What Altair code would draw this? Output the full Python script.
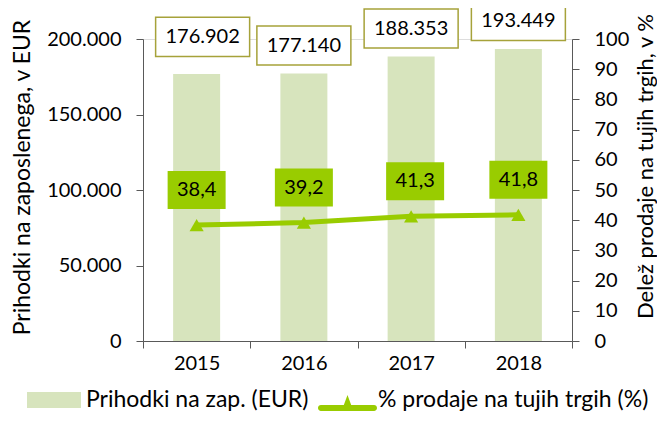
import altair as alt
import pandas as pd

# ---- data -------------------------------------------------------------
years = ["2015", "2016", "2017", "2018"]
revenue = [176902, 177140, 188353, 193449]          # Prihodki na zaposlenega (EUR)
share = [38.4, 39.2, 41.3, 41.8]                    # % prodaje na tujih trgih

rev_labels = [f"{v:,}".replace(",", ".") for v in revenue]
share_labels = [f"{v:.1f}".replace(".", ",") for v in share]

S_BAR = "Prihodki na zap. (EUR)"
S_LINE = "% prodaje na tujih trgih (%)"

df = pd.DataFrame({
    "year": years,
    "revenue": revenue,
    "share": share,
    "rev_label": rev_labels,
    "share_label": share_labels,
})

# ---- style ------------------------------------------------------------
BAR = "#d7e4bd"
GREEN = "#99cc00"
OLIVE = "#a6a23a"
AXIS = "#595959"
FONT = "Lato"
FS = 20
TFS = 23
LFS = 23


def make_legend(x, y, shape, size, offset):
    return alt.Legend(
        title=None,
        orient="none",
        direction="horizontal",
        legendX=x,
        legendY=y,
        symbolType=shape,
        symbolSize=size,
        symbolStrokeWidth=0,
        symbolOpacity=1,
        labelFont=FONT,
        labelFontSize=LFS,
        labelColor="black",
        labelOffset=offset,
        labelLimit=400,
    )


legend_bar = make_legend(-116, 334, "M-1,-0.296H1V0.296H-1Z", 2916, 5)
legend_line = make_legend(
    175, 331.5,
    "M-0.9,0.17H0.9A0.1,0.1 0 0 1 0.9,0.37H-0.9A0.1,0.1 0 0 1 -0.9,0.17Z "
    "M-0.2,0.37L0,-0.17L0.2,0.37Z",
    3481, 1,
)

x = alt.X(
    "year:N",
    scale=alt.Scale(paddingInner=0, paddingOuter=0),
    axis=alt.Axis(
        title=None, labelAngle=0, tickBand="extent", tickSize=7, labelPadding=5,
        labelFont=FONT, labelFontSize=FS, labelColor="black",
        domainColor=AXIS, tickColor=AXIS, grid=False,
    ),
)

y_left = alt.Y(
    "revenue:Q",
    scale=alt.Scale(domain=[0, 200000], nice=False),
    axis=alt.Axis(
        values=[0, 50000, 100000, 150000, 200000],
        labelExpr="replace(format(datum.value, ','), ',', '.')",
        tickSize=7, labelPadding=15,
        labelFont=FONT, labelFontSize=FS, labelColor="black",
        domainColor=AXIS, tickColor=AXIS, grid=False,
        title="Prihodki na zaposlenega, v EUR",
        titleFont=FONT, titleFontSize=TFS, titleFontWeight="normal", titleColor="black",
        titleAngle=270, titleX=-121, titleY=138, titleAlign="center", titleBaseline="middle",
    ),
)

y_right = alt.Y(
    "share:Q",
    scale=alt.Scale(domain=[0, 100], nice=False),
    axis=alt.Axis(
        orient="right",
        values=list(range(0, 101, 10)),
        tickSize=7, labelPadding=15,
        labelFont=FONT, labelFontSize=FS, labelColor="black",
        domainColor=AXIS, tickColor=AXIS, grid=False,
        title="Delež prodaje na tujih trgih, v %",
        titleFont=FONT, titleFontSize=22, titleFontWeight="normal", titleColor="black",
        titleAngle=270, titleX=73, titleY=127, titleAlign="center", titleBaseline="middle",
    ),
)

base = alt.Chart(df)

bars = base.mark_bar(width=47).encode(
    x=x, y=y_left,
    fill=alt.Fill("series:N", scale=alt.Scale(domain=[S_BAR], range=[BAR]), legend=legend_bar),
).transform_calculate(series=f"'{S_BAR}'")

bar_box = base.mark_point(
    shape="M-1,-0.415H1V0.415H-1Z", size=8836, filled=True,
    fill="white", stroke=OLIVE, strokeWidth=1.5, opacity=1,
    xOffset={"expr": "datum.year === '2015' ? 6 : 0"},
    yOffset={"expr": "datum.year === '2015' ? -37 : -28"},
).encode(x=x, y=y_left)

bar_text = base.mark_text(
    font=FONT, fontSize=FS, color="black", baseline="middle",
    xOffset={"expr": "datum.year === '2015' ? 6 : 0"},
    yOffset={"expr": "datum.year === '2015' ? -37 : -28"},
).encode(x=x, y=y_left, text="rev_label:N")

left = alt.layer(bars, bar_box, bar_text)

line = base.mark_line(strokeWidth=5, color=GREEN).encode(x=x, y=y_right)

pts = base.mark_point(shape="triangle-up", size=200, filled=True, opacity=1).encode(
    x=x, y=y_right,
    color=alt.Color("series2:N", scale=alt.Scale(domain=[S_LINE], range=[GREEN]), legend=legend_line),
).transform_calculate(series2=f"'{S_LINE}'")

g_box = base.mark_point(
    shape="M-1,-0.655H1V0.655H-1Z", size=3364, filled=True,
    fill=GREEN, strokeWidth=0, opacity=1, yOffset=-35,
    xOffset={"expr": "datum.year === '2017' ? 4 : 0"},
).encode(x=x, y=y_right)

g_text = base.mark_text(
    font=FONT, fontSize=FS, color="black", baseline="middle", yOffset=-35,
    xOffset={"expr": "datum.year === '2017' ? 4 : 0"},
).encode(x=x, y=y_right, text="share_label:N")

right = alt.layer(line, pts, g_box, g_text)

chart = alt.layer(left, right).resolve_scale(y="independent").properties(
    width=429,
    height=302,
    autosize=alt.AutoSizeParams(type="none"),
    padding={"left": 135, "top": 31, "right": 85, "bottom": 72},
).configure_view(stroke=None).configure(background="white")

chart.save("out.html", embed_options={"renderer": "svg", "actions": False})
